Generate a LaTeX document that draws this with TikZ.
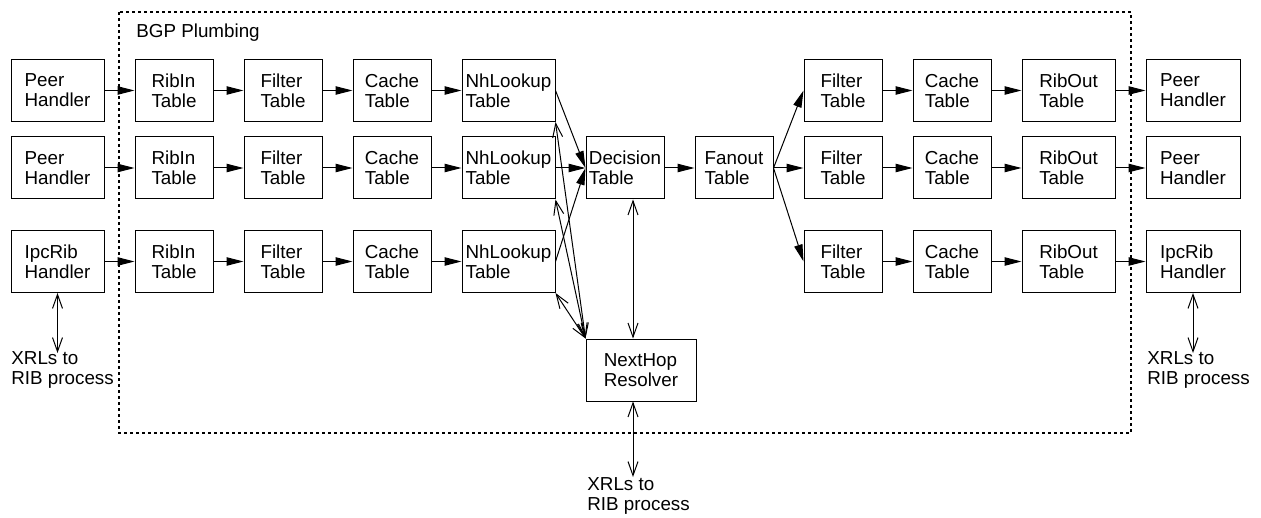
\documentclass[tikz,border=0pt]{standalone}
\usepackage{fontspec}
\setmainfont{Liberation Sans}
\usetikzlibrary{arrows.meta,calc}

\tikzset{
  blk/.style={draw, line width=0.5pt, inner sep=0pt, align=left,
              minimum width=39pt, minimum height=31pt},
  wblk/.style={blk, minimum width=46.5pt},
  flow/.style={-{Triangle[length=8.5pt,width=4.2pt]}, line width=0.5pt},
  xrl/.style={{Straight Barb[length=7pt,width=5pt]}-{Straight Barb[length=7pt,width=5pt]}, line width=0.5pt},
  lbl/.style={inner sep=0pt, align=left, anchor=north west}
}

\begin{document}
\begin{tikzpicture}[x=0.5pt, y=-0.5pt, font=\fontsize{9.4}{10}\selectfont]
            \useasboundingbox (0,0) rectangle (1261,518);
            % BGP Plumbing frame
            \draw[line width=0.9pt, dash pattern=on 1.5pt off 1.5pt] (119,12) rectangle (1131,433);
            \node[inner sep=0pt, anchor=base west] (plumb) at (136,38) {BGP Plumbing};
            % Left handlers
            \node[wblk] (peerA)  at (57.5, 90.5) {Peer\\Handler};
            \node[wblk] (peerB)  at (57.5,168.0) {Peer\\Handler};
            \node[wblk] (ipcL)   at (57.5,261.5) {IpcRib\\Handler};
            % Input branches
            \node[blk]  (ribinA) at (174, 90.5) {RibIn\\Table};
            \node[blk]  (ribinB) at (174,168.0) {RibIn\\Table};
            \node[blk]  (ribinC) at (174,261.5) {RibIn\\Table};
            \node[blk]  (fltA)   at (283, 90.5) {Filter\\Table};
            \node[blk]  (fltB)   at (283,168.0) {Filter\\Table};
            \node[blk]  (fltC)   at (283,261.5) {Filter\\Table};
            \node[blk]  (cchA)   at (392, 90.5) {Cache\\Table};
            \node[blk]  (cchB)   at (392,168.0) {Cache\\Table};
            \node[blk]  (cchC)   at (392,261.5) {Cache\\Table};
            \node[wblk] (nhA)    at (508.5, 90.5) {NhLookup\\Table};
            \node[wblk] (nhB)    at (508.5,168.0) {NhLookup\\Table};
            \node[wblk] (nhC)    at (508.5,261.5) {NhLookup\\Table};
            % Core
            \node[blk]  (dec)    at (625,168) {Decision\\Table};
            \node[blk]  (fan)    at (734,168) {Fanout\\Table};
            \node[blk, minimum width=55pt] (res) at (641,370) {NextHop\\Resolver};
            % Output branches
            \node[blk]  (ofltA)  at (843, 90.5) {Filter\\Table};
            \node[blk]  (ofltB)  at (843,168.0) {Filter\\Table};
            \node[blk]  (ofltC)  at (843,261.5) {Filter\\Table};
            \node[blk]  (occhA)  at (952, 90.5) {Cache\\Table};
            \node[blk]  (occhB)  at (952,168.0) {Cache\\Table};
            \node[blk]  (occhC)  at (952,261.5) {Cache\\Table};
            \node[wblk] (ribA)   at (1068.5, 90.5) {RibOut\\Table};
            \node[wblk] (ribB)   at (1068.5,168.0) {RibOut\\Table};
            \node[wblk] (ribC)   at (1068.5,261.5) {RibOut\\Table};
            % Right handlers
            \node[blk, minimum width=47pt] (opeerA) at (1193, 90.5) {Peer\\Handler};
            \node[blk, minimum width=47pt] (opeerB) at (1193,168.0) {Peer\\Handler};
            \node[blk, minimum width=47pt] (ipcR)   at (1193,261.5) {IpcRib\\Handler};
            % XRL labels
            \node[lbl] (xrlL) at (11,351)   {XRLs to\\RIB process};
            \node[lbl] (xrlM) at (587,477)  {XRLs to\\RIB process};
            \node[lbl] (xrlR) at (1147,351) {XRLs to\\RIB process};
            % Rows
            \foreach \r in {A,B} {
              \draw[flow] (peer\r.east) -- (ribin\r.west);
              \draw[flow] (rib\r.east) -- (opeer\r.west);
            }
            \draw[flow] (ipcL.east) -- (ribinC.west);
            \draw[flow] (ribC.east) -- (ipcR.west);
            \foreach \r in {A,B,C} {
              \draw[flow] (ribin\r.east) -- (flt\r.west);
              \draw[flow] (flt\r.east) -- (cch\r.west);
              \draw[flow] (cch\r.east) -- (nh\r.west);
              \draw[flow] (nh\r.east) -- (dec.west);
              \draw[xrl]  (nh\r.south east) -- (res.north west);
              \draw[flow] (fan.east) -- (oflt\r.west);
              \draw[flow] (oflt\r.east) -- (occh\r.west);
              \draw[flow] (occh\r.east) -- (rib\r.west);
            }
            \draw[flow] (dec.east) -- (fan.west);
            % Resolver links
            \coordinate (mid) at ($(dec.south)!.5!(res.north)$);
            \draw[xrl] (mid |- dec.south) -- (mid |- res.north);
            \draw[xrl] (mid |- res.south) -- (mid |- xrlM.north);
            % RIB links
            \draw[xrl] (ipcL.south) -- ([yshift=-1pt]ipcL.south |- xrlL.north);
            \draw[xrl] (ipcR.south) -- ([yshift=-1pt]ipcR.south |- xrlR.north);
\end{tikzpicture}
\end{document}
